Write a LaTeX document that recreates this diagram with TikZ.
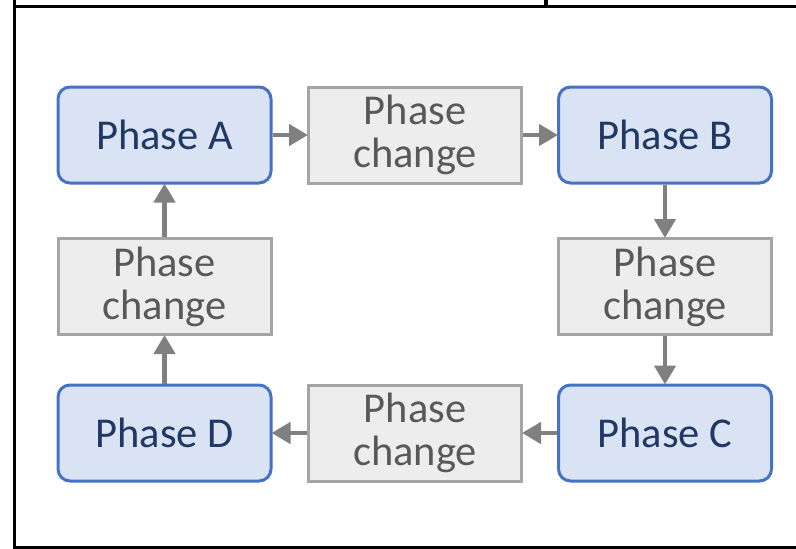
\documentclass[tikz,border=0pt]{standalone}
\usepackage{fontspec}
\setmainfont{Carlito}
\usetikzlibrary{arrows.meta}
\definecolor{phasefill}{HTML}{DAE3F3}
\definecolor{phaseline}{HTML}{4472C4}
\definecolor{phasetext}{HTML}{203864}
\definecolor{changefill}{HTML}{EDEDED}
\definecolor{changeline}{HTML}{A5A5A5}
\definecolor{changetext}{HTML}{595959}
\definecolor{flow}{HTML}{808080}
\tikzset{
  phasebox/.style={draw=phaseline, fill=phasefill, line width=3pt, rounded corners=12pt,
    minimum width=213pt, minimum height=96pt, inner sep=0pt, text=phasetext,
    font=\fontsize{42.5}{45}\selectfont},
  changebox/.style={draw=changeline, fill=changefill, line width=3pt,
    minimum width=213pt, minimum height=96pt, inner sep=0pt, text=changetext, align=center,
    font=\fontsize{42.5}{43}\selectfont},
  flowarrow/.style={draw=flow, line width=4.5pt, -{Triangle[length=19pt,width=21pt]}, shorten >=-1pt},
  frame/.style={line width=3.5pt, black}
}
\begin{document}
\begin{tikzpicture}[x=1pt, y=-1pt]
\useasboundingbox (0,0) rectangle (796,549);
% outer frame
\draw[frame] (796,6.5) -- (14.5,6.5) -- (14.5,547.5) -- (796,547.5);
\draw[frame] (14.5,0) -- (14.5,6.5);
\draw[frame] (546,0) -- (546,6.5);
% phases
\node[phasebox] (A) at (164.5,135) {Phase A};
\node[phasebox] (B) at (665,135) {Phase B};
\node[phasebox] (C) at (665,433) {Phase C};
\node[phasebox] (D) at (164.5,433) {Phase D};
% transitions
\node[changebox] (AB) at (415,135) {Phase\\change};
\node[changebox] (BC) at (665,286.5) {Phase\\change};
\node[changebox] (CD) at (415,433) {Phase\\change};
\node[changebox] (DA) at (164.5,286.5) {Phase\\change};
% connectors
\draw[flowarrow] (A) -- (AB);
\draw[flowarrow] (AB) -- (B);
\draw[flowarrow] (B) -- (BC);
\draw[flowarrow] (BC) -- (C);
\draw[flowarrow] (C) -- (CD);
\draw[flowarrow] (CD) -- (D);
\draw[flowarrow] (D) -- (DA);
\draw[flowarrow] (DA) -- (A);
\end{tikzpicture}
\end{document}
